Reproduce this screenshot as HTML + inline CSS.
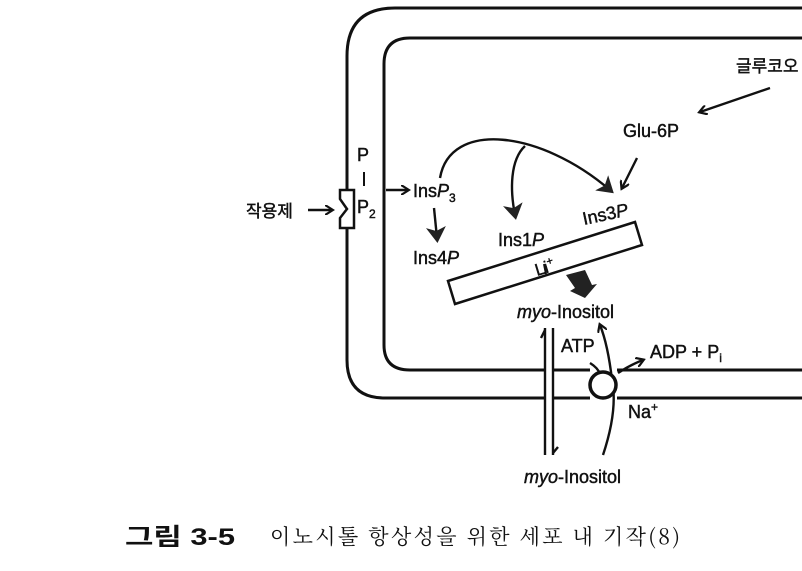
<!DOCTYPE html>
<html><head><meta charset="utf-8"><style>
body{margin:0;background:#fff;}
svg text{font-family:"Liberation Sans","Noto Sans CJK KR",sans-serif;fill:#111;}
.l{font-size:18px;stroke:#111;stroke-width:0.45px;}
</style></head><body>
<svg width="802" height="566" viewBox="0 0 802 566" xmlns="http://www.w3.org/2000/svg">
<defs>
<marker id="a" markerWidth="10" markerHeight="10" refX="7" refY="5" orient="auto" markerUnits="userSpaceOnUse"><path d="M0,0 L8,5 L0,10" fill="none" stroke="#111" stroke-width="2.2"/></marker>
<marker id="f" markerWidth="20" markerHeight="20" refX="11" refY="10" orient="auto" markerUnits="userSpaceOnUse"><path d="M0,0 L16,10 L0,20 L4,10Z" fill="#222"/></marker>
</defs>
<g fill="none" stroke="#111" stroke-width="3">
<path d="M802,8 H395 Q347,8 347,56 V190"/>
<path d="M347,228 V360 Q347,398 385,398 H545 M553,398 H590 M617,398 H802"/>
<path d="M802,38 H410 Q384,38 384,64 V345 Q384,370 410,370 H545 M553,370 H590 M617,370 H802"/>
<path d="M340,190 H354 V228 H340 V218 L347,209 L340,199 Z" stroke-width="2.5"/>
</g>
<polygon points="448,281 635,222 642,245 455,304" fill="#fff" stroke="#111" stroke-width="2.5"/>
<line x1="544" y1="264" x2="546" y2="274" stroke="#111" stroke-width="2"/>
<g fill="none" stroke="#111" stroke-width="2.4">
<line x1="308" y1="210" x2="332" y2="210" marker-end="url(#a)"/>
<line x1="386" y1="190" x2="408" y2="190" marker-end="url(#a)"/>
<path d="M440,178 C450,120 540,130 610,190" marker-end="url(#f)"/>
<path d="M525,146 C510,160 510,190 515,215" marker-end="url(#f)"/>
<path d="M434,208 L437,238" marker-end="url(#f)"/>
<path d="M770,88 L700,112" marker-end="url(#a)"/>
<path d="M637,158 L622,188" marker-end="url(#a)"/>
<path d="M545,328 V455 M553,328 V455"/>
<path d="M545,330 L541,338 M553,453 L558,447"/>
<path d="M590,363 Q598,368 600,374"/>
<path d="M603,455 Q618,410 612,380 Q608,345 600,325" marker-end="url(#a)"/>
<path d="M618,373 Q630,365 643,360" marker-end="url(#a)"/>
</g>
<path d="M566,275 L585,270 L592,285 L597,284 L585,298 L570,291 L575,288Z" fill="#222"/>
<circle cx="603" cy="385" r="13" fill="#fff" stroke="#111" stroke-width="3.5"/>
<text class="l" x="246" y="217" style="font-size:17px">작용제</text>
<text class="l" x="357" y="161">P</text>
<line x1="364" y1="172" x2="364" y2="186" stroke="#111" stroke-width="2"/>
<text class="l" x="357" y="213">P<tspan font-size="12" dy="5">2</tspan></text>
<text class="l" x="413" y="197">Ins<tspan font-style="italic">P</tspan><tspan font-size="12" dy="5">3</tspan></text>
<text class="l" x="413" y="264">Ins4<tspan font-style="italic">P</tspan></text>
<text class="l" x="498" y="246">Ins1<tspan font-style="italic">P</tspan></text>
<text class="l" x="584" y="225" transform="rotate(-12 584 225)">Ins3<tspan font-style="italic">P</tspan></text>
<text class="l" x="623" y="137">Glu-6P</text>
<text class="l" x="736" y="72" style="font-size:17px">글루코오</text>
<text class="l" x="537" y="276" style="font-size:17px" transform="rotate(-17 537 276)">Li<tspan font-size="11" dy="-7">+</tspan></text>
<text class="l" x="517" y="318"><tspan font-style="italic">myo</tspan>-Inositol</text>
<text class="l" x="561" y="352">ATP</text>
<text class="l" x="650" y="358">ADP + P<tspan font-size="12" dy="4">i</tspan></text>
<text class="l" x="628" y="418">Na<tspan font-size="12" dy="-7">+</tspan></text>
<text class="l" x="524" y="483"><tspan font-style="italic">myo</tspan>-Inositol</text>
<text x="125" y="545" font-size="24" font-weight="bold" textLength="110" lengthAdjust="spacingAndGlyphs">그림 3-5</text>
<text x="270" y="544" font-size="21" textLength="410" lengthAdjust="spacing" style="font-family:'Noto Serif CJK SC','Liberation Serif',serif">이노시톨 항상성을 위한 세포 내 기작(8)</text>
</svg>
</body></html>
